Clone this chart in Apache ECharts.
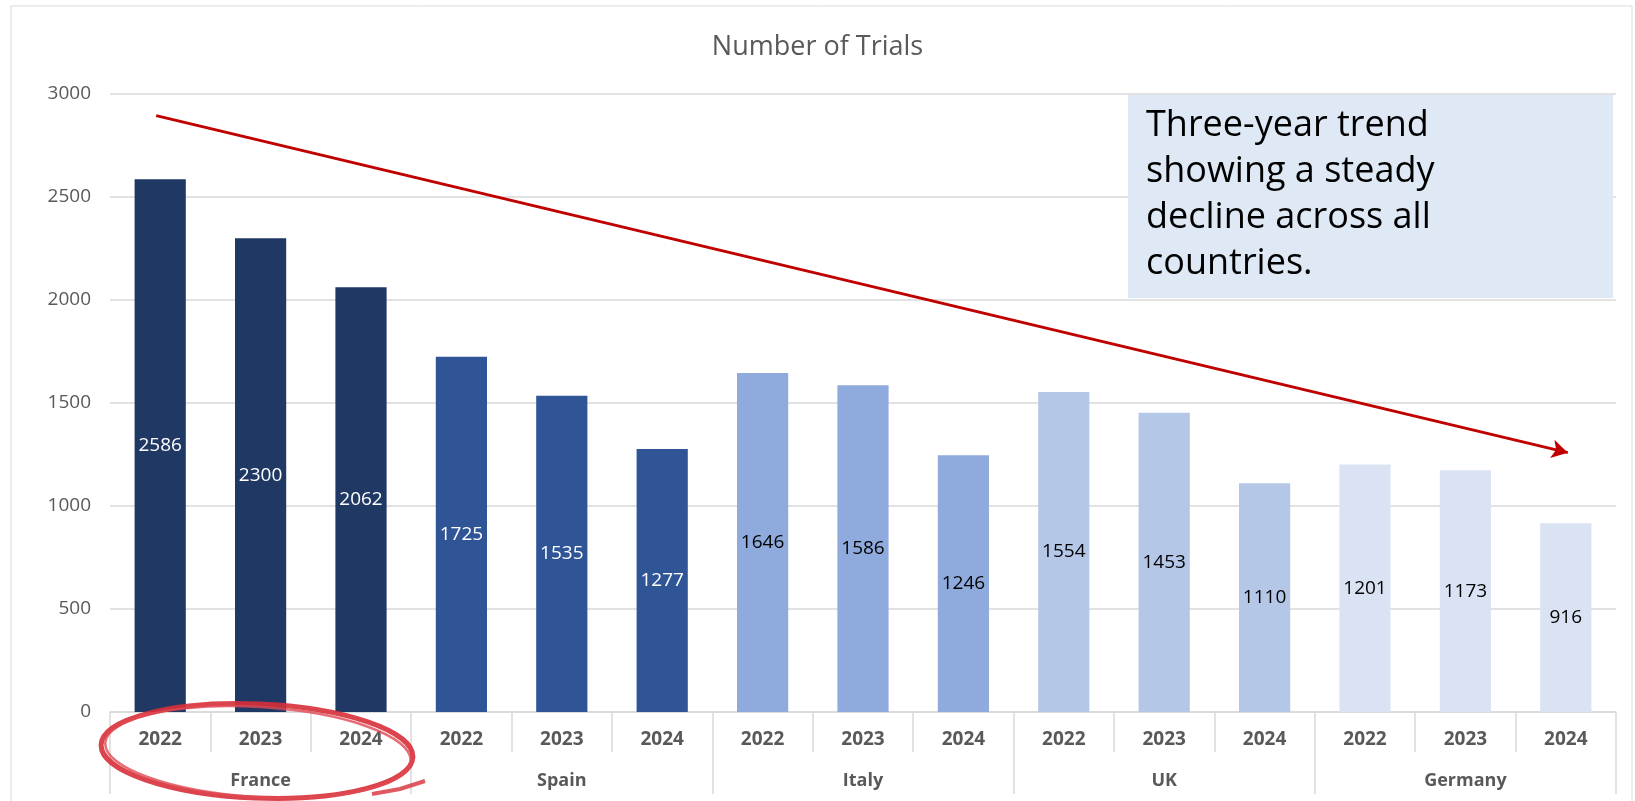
<!DOCTYPE html>
<html>
<head>
<meta charset="utf-8">
<script src="https://cdn.jsdelivr.net/npm/echarts@6/dist/echarts.min.js"></script>
<style>
html,body{margin:0;padding:0;background:#fff;}
#chart{width:1635px;height:801px;}
</style>
</head>
<body>
<div id="chart"></div>
<script>
// ---- data ----
const countries = ['France', 'Spain', 'Italy', 'UK', 'Germany'];
const years = ['2022', '2023', '2024'];
const france = [2586, 2300, 2062];
const spain = [1725, 1535, 1277];
const italy = [1646, 1586, 1246];
const uk = [1554, 1453, 1110];
const germany = [1201, 1173, 916];
const yTicks = [0, 500, 1000, 1500, 2000, 2500, 3000];
const trendStart = [-0.04, 2895];
const trendEnd = [14.02, 1259];
const noteText = ['Three-year trend', 'showing a steady', 'decline across all', 'countries.'];

// ---- styles ----
const countryColors = ['#203864', '#2F5597', '#8FAADC', '#B4C7E7', '#DAE3F3'];
const labelColors = ['#FFFFFF', '#FFFFFF', '#000000', '#000000', '#000000'];
const AX = '#595959';
const GRIDC = '#D9D9D9';
const FONT = '"Open Sans", "Noto Sans", sans-serif';

const valuesByCountry = [france, spain, italy, uk, germany];
const yearLabels = [];
const barData = [];
valuesByCountry.forEach((vals, ci) => {
  vals.forEach((v, yi) => {
    yearLabels.push(years[yi]);
    barData.push({
      value: v,
      itemStyle: { color: countryColors[ci] },
      label: { color: labelColors[ci] }
    });
  });
});

const chart = echarts.init(document.getElementById('chart'), null, { renderer: 'canvas' });

const option = {
  backgroundColor: '#ffffff',
  animation: false,
  title: {
    text: 'Number of Trials',
    left: 'center',
    top: 29,
    textStyle: { fontFamily: FONT, fontSize: 27, fontWeight: 'normal', color: AX }
  },
  grid: { left: 110, right: 19, top: 94, bottom: 89, containLabel: false },
  xAxis: [
    {
      type: 'category',
      data: yearLabels,
      position: 'bottom',
      axisLine: { show: true, lineStyle: { color: GRIDC, width: 1.5 } },
      axisTick: { show: true, length: 40, interval: 0, lineStyle: { color: GRIDC, width: 1.5 } },
      axisLabel: { interval: 0, margin: 18, fontFamily: FONT, fontSize: 19, fontWeight: 'bold', color: AX },
      splitLine: { show: false }
    },
    {
      type: 'category',
      data: countries,
      position: 'bottom',
      offset: 40,
      axisLine: { show: false },
      axisTick: { show: true, length: 42, interval: 0, lineStyle: { color: GRIDC, width: 1.5 } },
      axisLabel: { interval: 0, margin: 20, fontFamily: FONT, fontSize: 18, fontWeight: 'bold', color: AX },
      splitLine: { show: false }
    },
    {
      type: 'value',
      min: -0.5,
      max: yearLabels.length - 0.5,
      show: false
    }
  ],
  yAxis: {
    type: 'value',
    min: yTicks[0],
    max: yTicks[yTicks.length - 1],
    interval: yTicks[1] - yTicks[0],
    axisLine: { show: false },
    axisTick: { show: false },
    axisLabel: { margin: 19, fontFamily: FONT, fontSize: 19, color: AX, formatter: v => String(v) },
    splitLine: { show: true, lineStyle: { color: GRIDC, width: 1.5 } }
  },
  series: [
    {
      type: 'bar',
      xAxisIndex: 0,
      data: barData,
      barWidth: '51%',
      label: {
        show: true,
        position: 'inside',
        fontFamily: FONT,
        fontSize: 19
      }
    },
    {
      type: 'line',
      xAxisIndex: 2,
      data: [trendStart, trendEnd],
      symbol: 'none',
      lineStyle: { width: 0, opacity: 0 },
      silent: true,
      z: 5,
      markLine: {
        silent: true,
        symbol: ['none', 'arrow'],
        symbolSize: [14, 16],
        label: { show: false },
        lineStyle: { color: '#C00000', width: 3, type: 'solid' },
        data: [[{ coord: trendStart }, { coord: trendEnd }]]
      }
    }
  ],
  graphic: [
    {
      type: 'rect',
      shape: { x: 11, y: 6, width: 1621, height: 830 },
      style: { fill: 'none', stroke: GRIDC, lineWidth: 1 },
      silent: true,
      z: -1
    },
    {
      type: 'rect',
      shape: { x: 1128, y: 95, width: 485, height: 203 },
      style: { fill: '#DEE9F5' },
      z: 100
    },
    {
      type: 'text',
      left: 1146,
      top: 103,
      z: 101,
      style: {
        text: noteText.join('\n'),
        fontFamily: FONT,
        fontSize: 36,
        lineHeight: 46,
        fill: '#000000'
      }
    },
    {
      type: 'ellipse',
      shape: { cx: 257, cy: 751, rx: 156, ry: 47 },
      rotation: -0.04,
      originX: 257, originY: 751,
      style: { fill: 'none', stroke: '#D7303A', lineWidth: 5, opacity: 0.9 },
      z: 100
    },
    {
      type: 'ellipse',
      shape: { cx: 258, cy: 752, rx: 153, ry: 45 },
      rotation: -0.06,
      originX: 258, originY: 752,
      style: { fill: 'none', stroke: '#E04852', lineWidth: 2.5, opacity: 0.8 },
      z: 100
    },
    {
      type: 'polyline',
      shape: { points: [[372, 794], [400, 789], [425, 781]] },
      style: { fill: 'none', stroke: '#D7303A', lineWidth: 4, opacity: 0.8 },
      z: 100
    }
  ]
};
chart.setOption(option);
</script>
</body>
</html>
